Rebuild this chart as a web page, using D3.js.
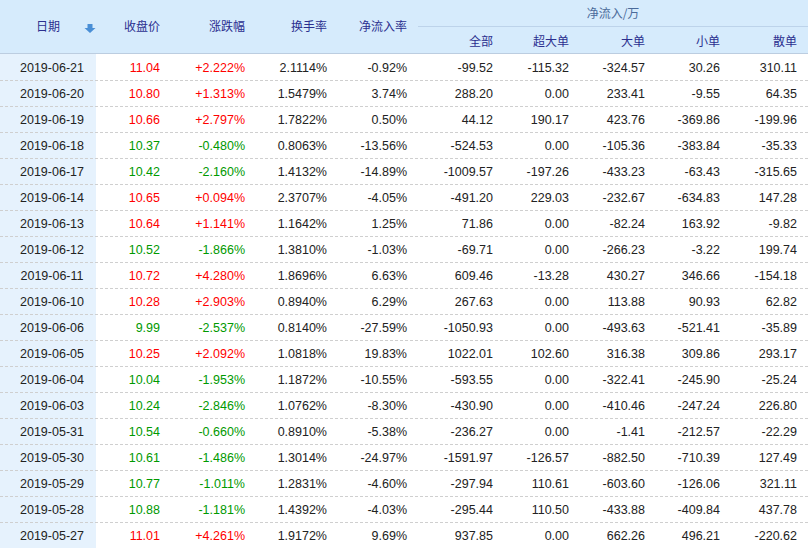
<!DOCTYPE html><html><head><meta charset="utf-8">
<script src="https://cdn.jsdelivr.net/npm/d3@7"></script>
<style>body{margin:0;background:#fff}</style></head><body><svg id="c" width="812" height="552"></svg>
<script>
const dates=["2019-06-21","2019-06-20","2019-06-19","2019-06-18","2019-06-17","2019-06-14","2019-06-13","2019-06-12","2019-06-11","2019-06-10","2019-06-06","2019-06-05","2019-06-04","2019-06-03","2019-05-31","2019-05-30","2019-05-29","2019-05-28","2019-05-27"];
const close=["11.04","10.80","10.66","10.37","10.42","10.65","10.64","10.52","10.72","10.28","9.99","10.25","10.04","10.24","10.54","10.61","10.77","10.88","11.01"];
const change=["+2.222%","+1.313%","+2.797%","-0.480%","-2.160%","+0.094%","+1.141%","-1.866%","+4.280%","+2.903%","-2.537%","+2.092%","-1.953%","-2.846%","-0.660%","-1.486%","-1.011%","-1.181%","+4.261%"];
const turnover=["2.1114%","1.5479%","1.7822%","0.8063%","1.4132%","2.3707%","1.1642%","1.3810%","1.8696%","0.8940%","0.8140%","1.0818%","1.1872%","1.0762%","0.8910%","1.3014%","1.2831%","1.4392%","1.9172%"];
const inflowRate=["-0.92%","3.74%","0.50%","-13.56%","-14.89%","-4.05%","1.25%","-1.03%","6.63%","6.29%","-27.59%","19.83%","-10.55%","-8.30%","-5.38%","-24.97%","-4.60%","-4.03%","9.69%"];
const total=["-99.52","288.20","44.12","-524.53","-1009.57","-491.20","71.86","-69.71","609.46","267.63","-1050.93","1022.01","-593.55","-430.90","-236.27","-1591.97","-297.94","-295.44","937.85"];
const superLarge=["-115.32","0.00","190.17","0.00","-197.26","229.03","0.00","0.00","-13.28","0.00","0.00","102.60","0.00","0.00","0.00","-126.57","110.61","110.50","0.00"];
const large=["-324.57","233.41","423.76","-105.36","-433.23","-232.67","-82.24","-266.23","430.27","113.88","-493.63","316.38","-322.41","-410.46","-1.41","-882.50","-603.60","-433.88","662.26"];
const small=["30.26","-9.55","-369.86","-383.84","-63.43","-634.83","163.92","-3.22","346.66","90.93","-521.41","309.86","-245.90","-247.24","-212.57","-710.39","-126.06","-409.84","496.21"];
const retail=["310.11","64.35","-199.96","-35.33","-315.65","147.28","-9.82","199.74","-154.18","62.82","-35.89","293.17","-25.24","226.80","-22.29","127.49","321.11","437.78","-220.62"];
const headTop=["收盘价","涨跌幅","换手率","净流入率"];
const headSub=["全部","超大单","大单","小单","散单"];

const svg=d3.select("#c"),W=808,H0=54,RH=26;
const font="'Liberation Sans',Arial,sans-serif";
const y=d3.scaleBand().domain(d3.range(dates.length)).range([H0,H0+RH*dates.length]);
svg.append("rect").attr("x",0).attr("y",0).attr("width",W).attr("height",H0).attr("fill","#d6ebfc");
svg.append("rect").attr("x",0).attr("y",H0).attr("width",96).attr("height",RH*dates.length).attr("fill","#e6f2fd");
svg.append("line").attr("x1",418).attr("x2",W).attr("y1",26.5).attr("y2",26.5).attr("stroke","#bdd3ea");
svg.append("line").attr("x1",0).attr("x2",W).attr("y1",H0-0.5).attr("y2",H0-0.5).attr("stroke","#bccde0");
const hc="#2b2f8f";
svg.append("text").attr("x",48).attr("y",31).attr("text-anchor","middle").attr("font-family","'Noto Sans CJK SC'").attr("font-size",12).attr("fill",hc).text("日期");
svg.append("path").attr("d","M87.5,24h5v4h3l-5.5,5l-5.5,-5h3z").attr("fill","#4a8fd6");
const topX=[160,245,327,407];
headTop.forEach((t,i)=>svg.append("text").attr("x",topX[i]).attr("y",31).attr("text-anchor","end").attr("font-family","'Noto Sans CJK SC'").attr("font-size",12).attr("fill",hc).text(t));
svg.append("text").attr("x",613).attr("y",18).attr("text-anchor","middle").attr("font-family","'Noto Sans CJK SC'").attr("font-size",12).attr("fill","#4a6a9a").text("净流入/万");
const subX=[493,569,645,720,797];
headSub.forEach((t,i)=>svg.append("text").attr("x",subX[i]).attr("y",46).attr("text-anchor","end").attr("font-family","'Noto Sans CJK SC'").attr("font-size",12).attr("fill",hc).text(t));
const up=c=>c[0]==="+"?"#ff0000":"#009900";
const rows=svg.selectAll("g.r").data(dates.map((d,i)=>i)).join("g").attr("transform",i=>`translate(0,${y(i)})`);
rows.filter(i=>i>0).append("line").attr("x1",0).attr("x2",W).attr("y1",0.5).attr("y2",0.5).attr("stroke","#cfcfcf").attr("stroke-dasharray","3,2");
const cols=[
 {x:52,a:"middle",v:dates,c:()=>"#222"},
 {x:160,a:"end",v:close,c:i=>up(change[i])},
 {x:245,a:"end",v:change,c:i=>up(change[i])},
 {x:327,a:"end",v:turnover,c:()=>"#222"},
 {x:407,a:"end",v:inflowRate,c:()=>"#222"},
 {x:493,a:"end",v:total,c:()=>"#222"},
 {x:569,a:"end",v:superLarge,c:()=>"#222"},
 {x:645,a:"end",v:large,c:()=>"#222"},
 {x:720,a:"end",v:small,c:()=>"#222"},
 {x:797,a:"end",v:retail,c:()=>"#222"}];
cols.forEach(col=>rows.append("text").attr("x",col.x).attr("y",RH/2+4.5).attr("text-anchor",col.a).attr("font-family",font).attr("font-size",12.5).attr("fill",i=>col.c(i)).text(i=>col.v[i]));
</script></body></html>
